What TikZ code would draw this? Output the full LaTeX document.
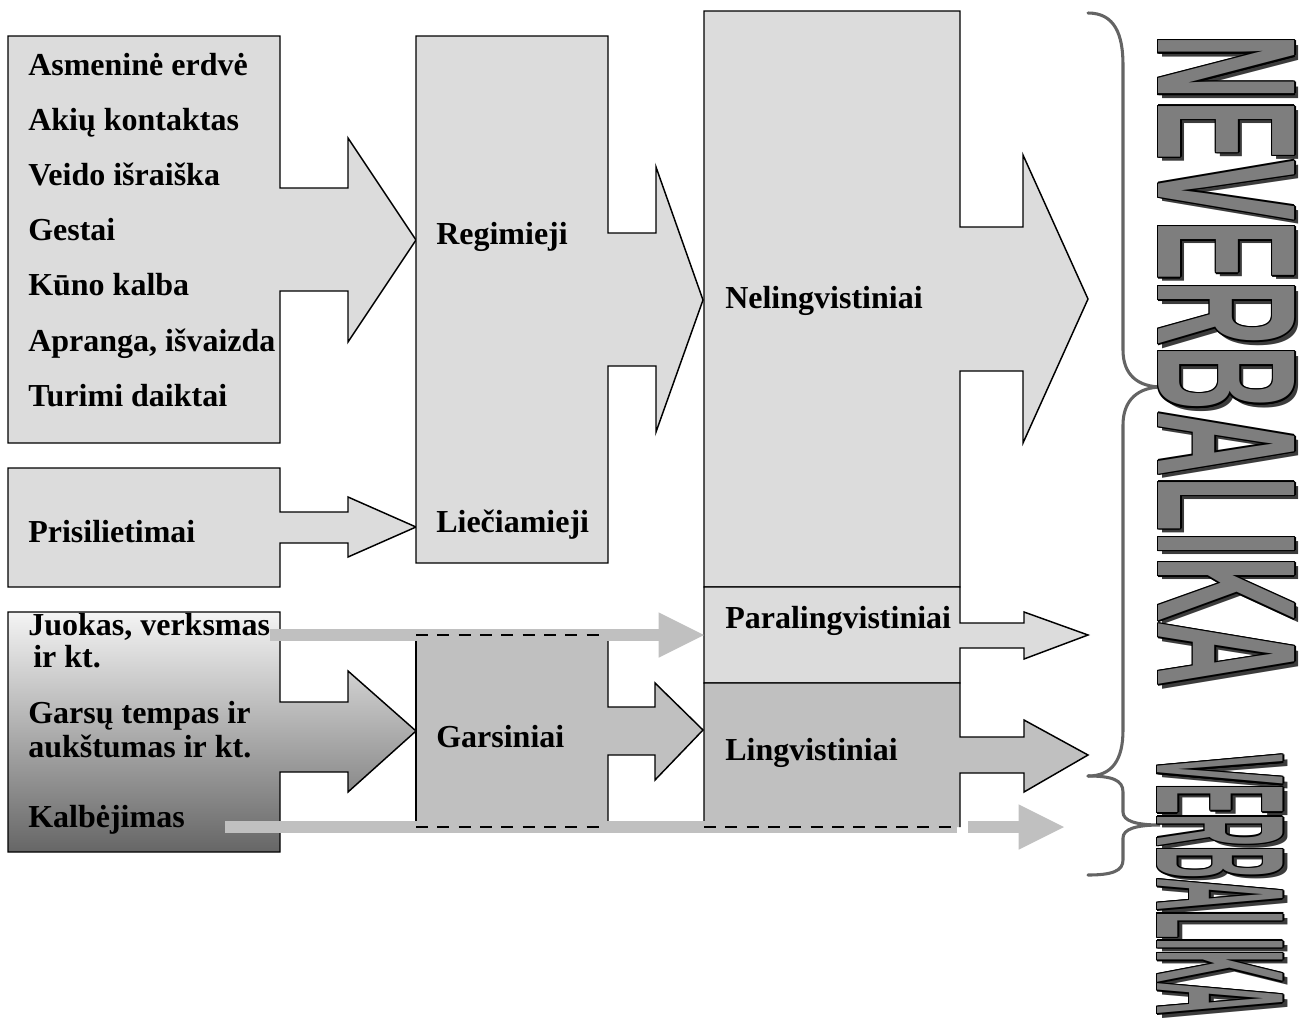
\documentclass[tikz,border=0pt]{standalone}
\usepackage{fontspec}
\usepackage{graphicx}
\setmainfont{Liberation Serif}
\newfontfamily\artfont{Liberation Sans}[UprightFont={* Bold}]
\usetikzlibrary{arrows.meta}

\definecolor{paleGray}{HTML}{DCDCDC}
\definecolor{midGray}{HTML}{C0C0C0}
\definecolor{gradTop}{HTML}{F4F4F4}
\definecolor{gradBot}{HTML}{666666}
\definecolor{braceGray}{HTML}{646464}
\definecolor{artGray}{HTML}{7E7E7E}
\definecolor{shadowGray}{HTML}{3C3C3C}

% stretched title word: shadow, black rim, grey face
\newcommand{\artbox}[3]{\resizebox{#1}{#2}{\artfont #3}}
\newcommand{\artword}[3]{%
  \makebox[0pt][l]{\hspace*{3.2pt}\raisebox{3.2pt}{\color{shadowGray}\artbox{#1}{#2}{#3}}}%
  \foreach \dx/\dy in {1.1pt/0pt, -1.1pt/0pt, 0pt/1.1pt, 0pt/-1.1pt,
      0.8pt/0.8pt, 0.8pt/-0.8pt, -0.8pt/0.8pt, -0.8pt/-0.8pt}
    {\makebox[0pt][l]{\hspace*{\dx}\raisebox{\dy}{\color{black}\artbox{#1}{#2}{#3}}}}%
  {\color{artGray}\artbox{#1}{#2}{#3}}}

\begin{document}
\begin{tikzpicture}[
    x=0.75pt, y=-0.75pt,
    lbl/.style={font=\fontsize{24}{28}\selectfont\bfseries, inner sep=0pt, anchor=base west},
    blkline/.style={draw, line width=1.1pt, line join=miter},
    blk/.style={blkline, fill=paleGray},
    darkblk/.style={blkline, fill=midGray},
    dashline/.style={blkline, dash pattern=on 9pt off 7pt},
    band/.style={draw=midGray, line width=8.5pt},
    bandarrow/.style={band, -{Triangle[length=34pt, width=34pt, line width=0pt]}},
    brc/.style={draw=braceGray, line width=2.3pt, line cap=round},
    art/.style={rotate=-90, inner sep=0pt},
]
\useasboundingbox (0,0) rectangle (1314,1025);

% === Left column ===
\path[blk] (8,36) -- (280,36) -- (280,188) -- (348,188) -- (348,138) -- (416,240)
    -- (348,342) -- (348,291) -- (280,291) -- (280,443) -- (8,443) -- cycle;
\path[blk] (8,468) -- (280,468) -- (280,512) -- (348,512) -- (348,497) -- (416,527)
    -- (348,557) -- (348,543) -- (280,543) -- (280,587) -- (8,587) -- cycle;
\path[blkline, top color=gradTop, bottom color=gradBot] (8,612) -- (280,612) -- (280,702)
    -- (348,702) -- (348,671) -- (416,731) -- (348,792) -- (348,772) -- (280,772)
    -- (280,852) -- (8,852) -- cycle;

\foreach \txt [count=\i from 0] in {Asmeninė erdvė, Akių kontaktas, Veido išraiška,
    Gestai, Kūno kalba, {Apranga, išvaizda}, Turimi daiktai}
    \node[lbl] (vis\i) at (28,75+55.2*\i) {\txt};
\node[lbl] (prisil) at (28,542) {Prisilietimai};
\node[lbl] (juokas) at (28,635) {Juokas, verksmas};
\node[lbl] (irkt) at (33,667) {ir kt.};
\node[lbl] (tempas) at (28,723) {Garsų tempas ir};
\node[lbl] (aukst) at (28,757) {aukštumas ir kt.};
\node[lbl] (kalb) at (28,827) {Kalbėjimas};

% === Middle column ===
\path[blk] (416,36) -- (608,36) -- (608,233) -- (656,233) -- (656,167) -- (703,300)
    -- (656,432) -- (656,366) -- (608,366) -- (608,563) -- (416,563) -- cycle;
\fill[midGray] (416,635) -- (608,635) -- (608,707) -- (655,707) -- (655,683) -- (703,730)
    -- (655,780) -- (655,755) -- (608,755) -- (608,827) -- (416,827) -- cycle;
\draw[blkline] (416,635) -- (416,827);
\draw[blkline] (608,635) -- (608,707) -- (655,707) -- (655,683) -- (703,730)
    -- (655,780) -- (655,755) -- (608,755) -- (608,827);

\node[lbl] (regim) at (436,244) {Regimieji};
\node[lbl] (lieciam) at (436,532) {Liečiamieji};
\node[lbl] (gars) at (436,747) {Garsiniai};

% === Right column ===
\path[blk] (704,11) -- (960,11) -- (960,227) -- (1023,227) -- (1023,155) -- (1088,299)
    -- (1023,443) -- (1023,371) -- (960,371) -- (960,587) -- (704,587) -- cycle;
\path[blk] (704,587) -- (960,587) -- (960,623) -- (1024,623) -- (1024,612) -- (1088,635)
    -- (1024,659) -- (1024,648) -- (960,648) -- (960,683) -- (704,683) -- cycle;
\path[darkblk] (704,827) -- (704,683) -- (960,683) -- (960,737) -- (1024,737) -- (1024,720)
    -- (1088,755) -- (1024,792) -- (1024,773) -- (960,773) -- (960,827);

\node[lbl] (nel) at (725,308) {Nelingvistiniai};
\node[lbl] (para) at (725,628) {Paralingvistiniai};
\node[lbl] (ling) at (725,760) {Lingvistiniai};

% === Sound bands ===
\coordinate (paraIn) at (704,635);
\coordinate (lingEnd) at (957,827);
\coordinate (verbOut) at (968,827);
\coordinate (verbTip) at (1064,827);

\draw[bandarrow] (juokas.base east) -- (paraIn);
\draw[band] ([xshift=30pt]kalb.base east) -- (lingEnd);
\draw[bandarrow] (verbOut) -- (verbTip);

\draw[dashline] (416,635) -- (608,635);
\draw[dashline] (416,827) -- (608,827);
\draw[dashline] (704,827) -- (960,827);

% === Braces ===
\draw[brc] (1088,13) .. controls (1115,13) and (1123,35) .. (1123,65) -- (1123,350)
    .. controls (1123,375) and (1138,387) .. (1162,387)
    .. controls (1138,387) and (1123,400) .. (1123,425) -- (1123,730)
    .. controls (1123,760) and (1112,776) .. (1088,776);
\draw[brc] (1088,776) .. controls (1112,776) and (1123,780) .. (1123,792) -- (1123,812)
    .. controls (1123,821) and (1136,825) .. (1160,825)
    .. controls (1136,825) and (1123,829) .. (1123,838) -- (1123,860)
    .. controls (1123,871) and (1112,875) .. (1088,875);

% === Vertical titles ===
\node[art] (nv) at (1228,361) {\artword{489pt}{102pt}{NEVERBALIKA}};
\node[art] (vb) at (1222,885) {\artword{195pt}{94pt}{VERBALIKA}};

\end{tikzpicture}
\end{document}
